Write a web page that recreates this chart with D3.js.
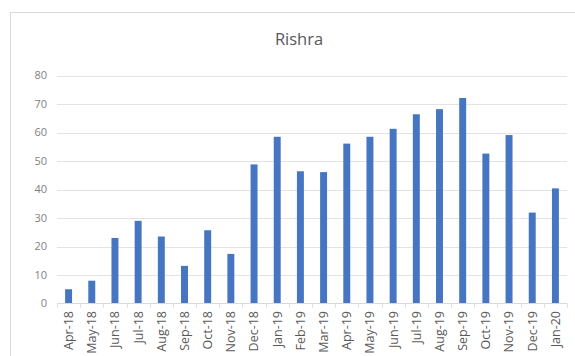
<!DOCTYPE html>
<html>
<head>
<meta charset="utf-8">
<script src="https://cdn.jsdelivr.net/npm/d3@7"></script>
<style>
  body { margin: 0; background: #fff; }
  text { font-family: "Open Sans", "Liberation Sans", sans-serif; }
</style>
</head>
<body>
<svg id="chart" width="575" height="356"></svg>
<script>
var months = ["Apr-18","May-18","Jun-18","Jul-18","Aug-18","Sep-18","Oct-18","Nov-18","Dec-18",
	"Jan-19","Feb-19","Mar-19","Apr-19","May-19","Jun-19","Jul-19","Aug-19","Sep-19","Oct-19",
	"Nov-19","Dec-19","Jan-20"];
var values = [5, 8, 23, 29, 23.5, 13.2, 25.7, 17.4, 48.8, 58.5, 46.4, 46.1, 56.1, 58.5, 61.3,
	66.4, 68.2, 72.1, 52.6, 59.1, 31.9, 40.4];
var yTicks = [0, 10, 20, 30, 40, 50, 60, 70, 80];
var chartTitle = "Rishra";

var svg = d3.select("#chart");

// Chart frame (extends past the right/bottom edge like the screenshot).
svg.append("rect")
	.attr("x", 10.5).attr("y", 12.5)
	.attr("width", 600).attr("height", 400)
	.style("fill", "#fff")
	.style("stroke", "#d9d9d9");

svg.append("text")
	.attr("x", 299).attr("y", 45)
	.attr("text-anchor", "middle")
	.attr("font-size", "16.5px")
	.style("fill", "#595959")
	.text(chartTitle);

var x = d3.scaleBand().domain(months).range([57, 567]).paddingInner(0.7).paddingOuter(0.35);
var y = d3.scaleLinear().domain([0, 80]).range([303.5, 75.5]);

// Gridlines.
svg.append("g").selectAll("line")
	.data(yTicks.filter(function(d){ return d > 0; }))
	.join("line")
	.attr("x1", 57).attr("x2", 567)
	.attr("y1", function(d){ return Math.round(y(d)) + 0.5; })
	.attr("y2", function(d){ return Math.round(y(d)) + 0.5; })
	.style("stroke", "#e3e3e3");

// Y axis labels.
svg.append("g").selectAll("text")
	.data(yTicks)
	.join("text")
	.attr("x", 47)
	.attr("y", function(d){ return y(d); })
	.attr("dy", "0.35em")
	.attr("text-anchor", "end")
	.attr("font-size", "11px")
	.style("fill", "#7f7f7f")
	.text(function(d){ return d; });

// Bars.
svg.append("g").selectAll("rect")
	.data(values)
	.join("rect")
	.attr("x", function(d, i){ return x(months[i]); })
	.attr("width", x.bandwidth())
	.attr("y", function(d){ return y(d); })
	.attr("height", function(d){ return y(0) - y(d); })
	.style("fill", "#4675c2");

// Baseline and category ticks.
svg.append("line")
	.attr("x1", 57).attr("x2", 567)
	.attr("y1", 303.5).attr("y2", 303.5)
	.style("stroke", "#d9d9d9");
var step = x.step();
svg.append("g").selectAll("line")
	.data(d3.range(months.length + 1))
	.join("line")
	.attr("x1", function(i){ return Math.round(57 + (567 - 57 - step * months.length) / 2 + i * step) + 0.5; })
	.attr("x2", function(i){ return Math.round(57 + (567 - 57 - step * months.length) / 2 + i * step) + 0.5; })
	.attr("y1", 303.5).attr("y2", 308)
	.style("stroke", "#e3e3e3");

// X labels, rotated.
svg.append("g").selectAll("text")
	.data(months)
	.join("text")
	.attr("transform", function(d){ return "translate(" + (x(d) + x.bandwidth() / 2) + ",311) rotate(-90)"; })
	.attr("dy", "0.35em")
	.attr("text-anchor", "end")
	.attr("font-size", "12.5px")
	.style("fill", "#595959")
	.text(function(d){ return d; });
</script>
</body>
</html>
